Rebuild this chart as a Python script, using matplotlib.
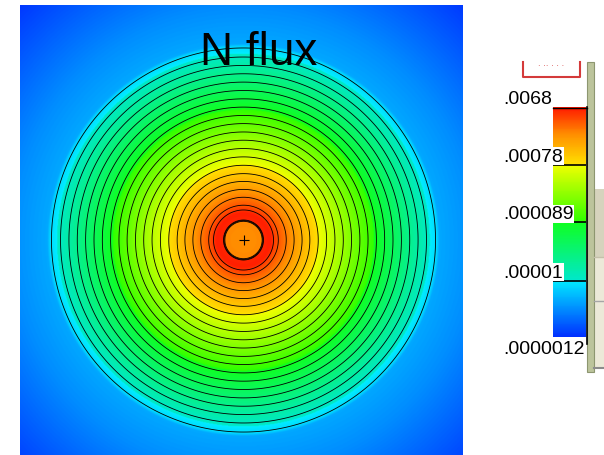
import numpy as np
import matplotlib.pyplot as plt
from matplotlib.colors import LinearSegmentedColormap, LogNorm
from matplotlib.patches import Rectangle

# radial flux profile (r in units of the disc radius)
profile_r = [0.0, 0.095, 0.105, 0.14, 0.17, 0.35, 0.50, 0.69, 0.85, 0.97, 1.0, 1.015, 1.2, 1.7]
profile_flux = [2.4e-3, 2.5e-3, 6.0e-3, 6.3e-3, 4.3e-3, 1.04e-3, 3.4e-4, 8.1e-5,
                2.45e-5, 1.0e-5, 8.3e-6, 4.7e-6, 3.5e-6, 1.26e-6]

# iso-lines drawn on the map
contour_levels = [8.7e-6, 1.2e-5, 1.66e-5, 2.29e-5, 3.16e-5, 4.37e-5, 6.03e-5, 8.3e-5,
                  1.15e-4, 1.58e-4, 2.19e-4, 3.02e-4, 4.17e-4, 5.75e-4, 7.94e-4,
                  1.10e-3, 1.51e-3, 2.09e-3, 2.88e-3, 3.98e-3, 5.2e-3]

# colour scale
cbar_ticks = [6.8e-3, 7.8e-4, 8.9e-5, 1.0e-5, 1.2e-6]
cbar_labels = ['.0068', '.00078', '.000089', '.00001', '.0000012']

W, H = 604, 456
cx, cy, R = 243.5, 241, 193.5   # disc centre / radius in pixels

cmap = LinearSegmentedColormap.from_list('flux', [
    (0.0, '#0030ff'), (0.249, '#00eeff'), (0.251, '#00e8c8'), (0.499, '#10ff20'),
    (0.501, '#30ff00'), (0.749, '#f0ff00'), (0.751, '#ffe000'), (0.88, '#ff9000'),
    (1.0, '#ff1800')])
norm = LogNorm(vmin=cbar_ticks[-1], vmax=cbar_ticks[0])

fig = plt.figure(figsize=(W / 100, H / 100), dpi=100)

# --- flux map
x0, x1 = (20 - cx) / R, (463 - cx) / R
y0, y1 = -(456 - cy) / R, (cy - 6) / R
xs = np.linspace(x0, x1, 700)
ys = np.linspace(y0, y1, 700)
X, Y = np.meshgrid(xs, ys)
r = np.hypot(X, Y)
field = 10 ** np.interp(r, profile_r, np.log10(profile_flux))

ax = fig.add_axes([20 / W, 0, 443 / W, 450 / H])
im = ax.imshow(field, origin='lower', extent=[x0, x1, y0, y1], cmap=cmap, norm=norm,
               interpolation='bilinear', aspect='auto')
ax.contour(X, Y, field, levels=contour_levels, colors='black', linewidths=0.6)
ax.plot(0, 0, marker='+', color='black', ms=7, mew=0.8)
ax.text(0.08, 0.97, 'N flux', fontsize=33, family='Liberation Sans',
        ha='center', va='center')
ax.set_xlim(x0, x1)
ax.set_ylim(y0, y1)
ax.axis('off')

# --- colour bar
cax = fig.add_axes([553 / W, (H - 338) / H, 33 / W, 230 / H])
cb = fig.colorbar(im, cax=cax)
cb.outline.set_visible(False)
cb.minorticks_off()
cax.set_yticks([])
for v in cbar_ticks[1:-1]:
    cax.axhline(v, color='black', lw=1.2)
for v, lab in zip(cbar_ticks, cbar_labels):
    last = v == cbar_ticks[-1]
    cax.annotate(lab, xy=(0, v), xycoords=('axes fraction', 'data'),
                 xytext=(-50, -3 if last else 0), textcoords='offset pixels',
                 ha='left', va='top' if last else 'bottom', fontsize=14,
                 family='Liberation Sans',
                 bbox=dict(facecolor='white', edgecolor='none', pad=0.5))

# --- window bits on the right
ov = fig.add_axes([0, 0, 1, 1], zorder=5)
ov.set_xlim(0, W)
ov.set_ylim(H, 0)
ov.axis('off')
ov.plot([586.5, 586.5], [108, 345], color='black', lw=1.2)
ov.plot([553, 586.5], [108.5, 108.5], color='black', lw=1)
ov.plot([523, 523, 580, 580], [63, 78, 78, 63], color='#d43a3a', lw=1.5)
ov.text(551, 64, '. .. . . .', color='#d43a3a', fontsize=6, ha='center', va='center')
ov.add_patch(Rectangle((594, 190), 10, 68, facecolor='#d6d3bd', edgecolor='none'))
ov.add_patch(Rectangle((594, 258), 10, 110, facecolor='#ece9d8', edgecolor='none'))
ov.plot([594, 604], [258, 258], color='#c4c0aa', lw=1)
ov.plot([594, 604], [302, 302], color='#a6a6a6', lw=1)
ov.plot([594, 604], [368.5, 368.5], color='#8c8c8c', lw=1.5)
ov.add_patch(Rectangle((587, 63), 7, 310, facecolor='#bcc49c', edgecolor='#8d9670', lw=0.8))

fig.savefig('out.png', dpi=100)
